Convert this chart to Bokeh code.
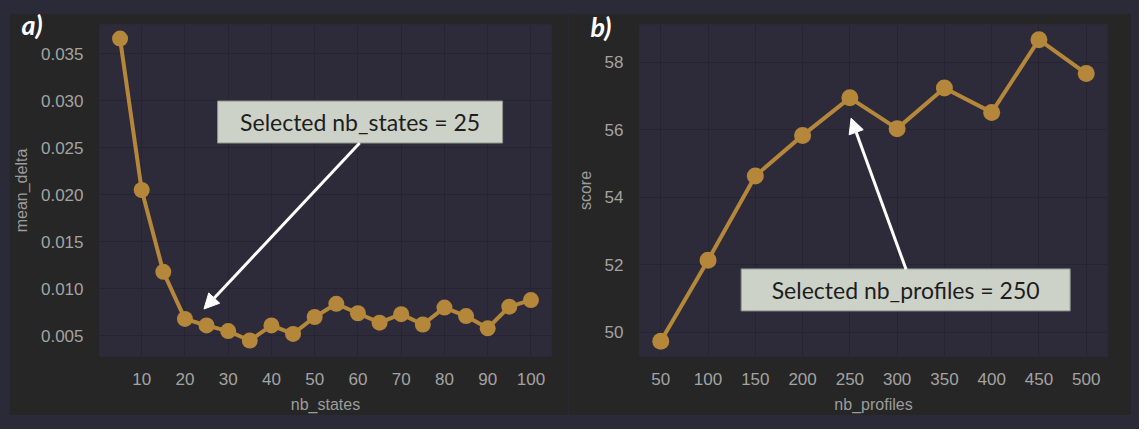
from bokeh.plotting import figure
from bokeh.layouts import row
from bokeh.models import (Arrow, NormalHead, FixedTicker, PrintfTickFormatter, Title)
from bokeh.core.properties import value
from bokeh.embed import file_html
from bokeh.resources import INLINE

# ---- data ----
nb_states = [5, 10, 15, 20, 25, 30, 35, 40, 45, 50, 55, 60, 65, 70, 75, 80, 85, 90, 95, 100]
mean_delta = [0.0366, 0.0205, 0.0118, 0.0068, 0.0061, 0.0055, 0.0045, 0.0061, 0.0052, 0.0070,
              0.0084, 0.0074, 0.0064, 0.0073, 0.0062, 0.0080, 0.0071, 0.0058, 0.0081, 0.0088]
nb_profiles = [50, 100, 150, 200, 250, 300, 350, 400, 450, 500]
score = [49.74, 52.14, 54.63, 55.83, 56.94, 56.03, 57.23, 56.51, 58.66, 57.66]

ticks_a_x = [10, 20, 30, 40, 50, 60, 70, 80, 90, 100]
ticks_a_y = [0.005, 0.010, 0.015, 0.020, 0.025, 0.030, 0.035]
ticks_b_x = [50, 100, 150, 200, 250, 300, 350, 400, 450, 500]
ticks_b_y = [50, 52, 54, 56, 58]

note_a = "Selected nb_states = 25"
note_b = "Selected nb_profiles = 250"
panel_a_title = "a)"
panel_b_title = "b)"
box_a = (60.5, 0.02773)
arrow_a = (60.4, 0.0255, 24.4, 0.00785)
box_b = (309.0, 51.26)
arrow_b = (309.5, 51.86, 251.3, 56.34)

OUTER = "#2b2a38"
PANEL = "#262626"
PLOT_BG = "#2d2b3a"
GRID = "#252430"
LINE = "#b4873a"
TICK_C = "#a3a3a3"
LABEL_C = "#9c9c9c"
BOX_FILL = "#cdd2c8"
BOX_LINE = "#8f938b"
TICK_FONT = "Liberation Sans"
NOTE_FONT = "Lato"


def style(p):
    p.background_fill_color = PLOT_BG
    p.border_fill_color = PANEL
    p.outline_line_color = None
    p.grid.grid_line_color = GRID
    p.grid.grid_line_width = 1
    for ax in (p.xaxis, p.yaxis):
        ax.axis_line_color = None
        ax.major_tick_line_color = None
        ax.minor_tick_line_color = None
        ax.major_label_text_color = TICK_C
        ax.major_label_text_font = TICK_FONT
        ax.major_label_text_font_size = "17px"
        ax.axis_label_text_color = LABEL_C
        ax.axis_label_text_font = TICK_FONT
        ax.axis_label_text_font_size = "16px"
        ax.axis_label_text_font_style = "normal"
        ax.major_label_standoff = 10
        ax.axis_label_standoff = 8


def panel_tag(p, text, offset, standoff):
    kw = dict(text=text, align="left", vertical_align="bottom", offset=offset,
              text_font=NOTE_FONT, text_font_style="bold italic", text_font_size="27px",
              text_color="white")
    try:
        t = Title(standoff=standoff, **kw)
    except Exception:
        t = Title(**kw)
    p.title = t


# ---- panel a ----
p1 = figure(width=559, height=402, x_range=(0.25, 104.75), y_range=(0.0028, 0.0381),
            output_backend="svg", toolbar_location=None,
            min_border_left=87, min_border_right=17, min_border_top=11, min_border_bottom=57)
style(p1)
p1.xaxis.ticker = FixedTicker(ticks=ticks_a_x)
p1.yaxis.ticker = FixedTicker(ticks=ticks_a_y)
p1.yaxis.formatter = PrintfTickFormatter(format="%.3f")
p1.xaxis.axis_label = "nb_states"
p1.yaxis.axis_label = "mean_delta"
p1.line(nb_states, mean_delta, line_color=LINE, line_width=4)
p1.scatter(nb_states, mean_delta, size=16, fill_color=LINE, line_color=None)

p1.add_layout(Arrow(end=NormalHead(size=15, fill_color="white", line_color="white", line_width=1),
                    x_start=arrow_a[0], y_start=arrow_a[1], x_end=arrow_a[2], y_end=arrow_a[3],
                    line_color="white", line_width=3))
p1.rect(x=[box_a[0]], y=[box_a[1]], width=285, height=42, width_units="screen", height_units="screen",
        fill_color=BOX_FILL, line_color=BOX_LINE, line_width=1)
p1.text(x=[box_a[0]], y=[box_a[1]], text=[note_a], text_align="center", text_baseline="middle",
        text_font=value(NOTE_FONT), text_font_size="23px", text_color="#1e1e1e")
panel_tag(p1, panel_a_title, -78, -32)

# ---- panel b ----
p2 = figure(width=563, height=402, x_range=(27.5, 522.5), y_range=(49.29, 59.11),
            output_backend="svg", toolbar_location=None,
            min_border_left=71, min_border_right=24, min_border_top=4, min_border_bottom=56)
style(p2)
p2.xaxis.ticker = FixedTicker(ticks=ticks_b_x)
p2.yaxis.ticker = FixedTicker(ticks=ticks_b_y)
p2.xaxis.axis_label = "nb_profiles"
p2.yaxis.axis_label = "score"
p2.line(nb_profiles, score, line_color=LINE, line_width=4)
p2.scatter(nb_profiles, score, size=17, fill_color=LINE, line_color=None)

p2.add_layout(Arrow(end=NormalHead(size=15, fill_color="white", line_color="white", line_width=1),
                    x_start=arrow_b[0], y_start=arrow_b[1], x_end=arrow_b[2], y_end=arrow_b[3],
                    line_color="white", line_width=3))
p2.rect(x=[box_b[0]], y=[box_b[1]], width=329, height=42, width_units="screen", height_units="screen",
        fill_color=BOX_FILL, line_color=BOX_LINE, line_width=1)
p2.text(x=[box_b[0]], y=[box_b[1]], text=[note_b], text_align="center", text_baseline="middle",
        text_font=value(NOTE_FONT), text_font_size="23px", text_color="#1e1e1e")
panel_tag(p2, panel_b_title, -49, -37)

layout = row(p1, p2, width=1139, height=429,
             styles={"background-color": OUTER, "padding": "13px 8px 14px 9px", "box-sizing": "border-box"})

open("out.html", "w").write(file_html(layout, INLINE))
